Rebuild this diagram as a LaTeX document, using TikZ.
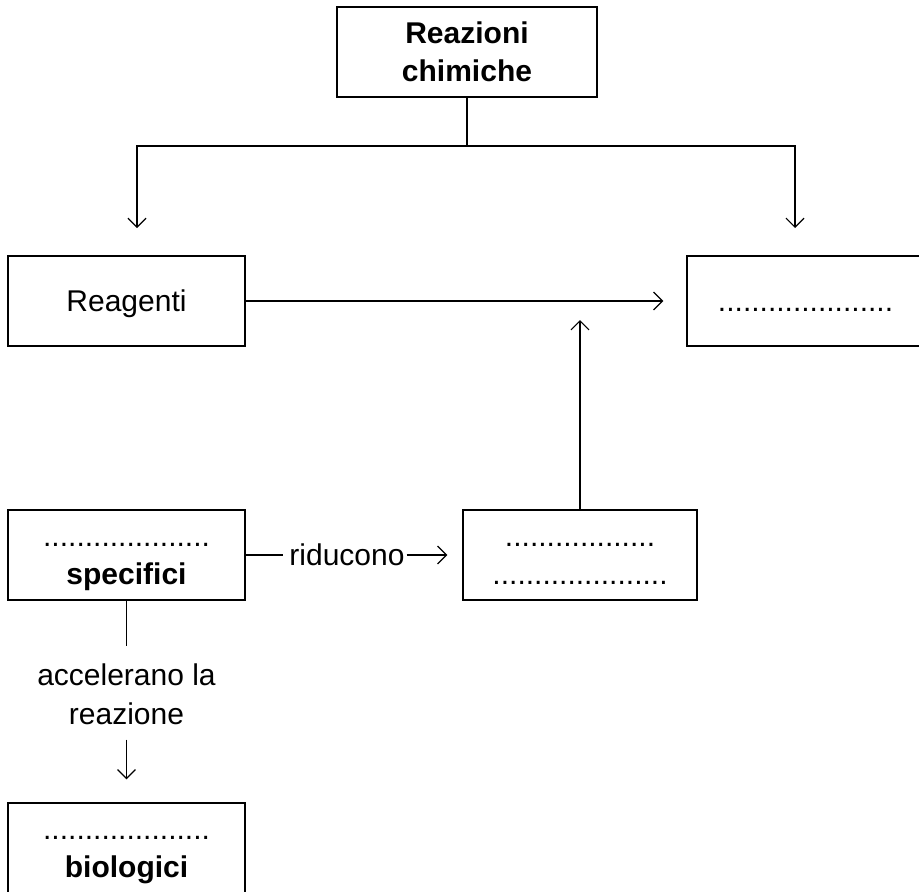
\documentclass[tikz,border=0pt]{standalone}
\usepackage{fontspec}
\setmainfont{Liberation Sans}
\usetikzlibrary{arrows.meta,positioning,calc}
\newcommand\lnstrut{\rule[-9pt]{0pt}{38pt}}
\tikzset{
  mapbox/.style={draw=black, line width=1.2pt, fill=white, minimum width=237pt,
                 minimum height=90pt, align=center, inner sep=0pt,
                 font=\fontsize{30}{38}\selectfont},
  lbl/.style={align=center, inner sep=0pt, font=\fontsize{30}{36}\selectfont},
  lnk/.style={line width=1.2pt, color=black},
  arr/.style={-{Straight Barb[length=9pt, width=18pt]}, line width=1.2pt, color=black}}

\begin{document}
\begin{tikzpicture}[x=1pt, y=-1pt]
    \useasboundingbox (0,0) rectangle (919,892);
    \node[mapbox, minimum width=260pt] (top) at (467,52)
      {\lnstrut\textbf{Reazioni}\\\lnstrut\textbf{chimiche}};
    \node[mapbox] (reag) at (126.5,301) {\lnstrut Reagenti};
    \node[mapbox] (prod) at (805.5,301) {\lnstrut.....................};
    \node[mapbox] (spec) at (126.5,555)
      {\lnstrut....................\\\lnstrut\textbf{specifici}};
    \node[mapbox, minimum width=234pt] (low) at (580,555)
      {\lnstrut..................\\\lnstrut.....................};
    \node[mapbox] (bio) at (126.5,848)
      {\lnstrut....................\\\lnstrut\textbf{biologici}};
    % labels on the links
    \node[lbl] (rid) at (347,555) {\lnstrut riducono};
    \node[lbl] (acc) at (126.5,695) {\lnstrut accelerano la\\\lnstrut reazione};
    % split under the title
    \coordinate (split) at (467,146);
    \coordinate (lt) at (137,228);
    \coordinate (rt) at (795,228);
    \coordinate (up) at (580,320);
    \draw[lnk] (top.south) -- (split);
    \draw[arr] (split) -| (lt);
    \draw[arr] (split) -| (rt);
    \draw[arr, shorten >=23pt] (reag.east) -- (prod.west |- reag.east);
    \draw[arr] (low.north) -- (up);
    \draw[lnk] (spec.east) -- ([xshift=-6pt]rid.west);
    \draw[arr, shorten <=2pt, shorten >=15pt] (rid.east) -- (low.west);
    \draw[lnk] (spec.south) -- ([yshift=10pt]acc.north);
    \draw[arr, shorten <=6pt, shorten >=23pt] (acc.south) -- (bio.north);
  \end{tikzpicture}
\end{document}
